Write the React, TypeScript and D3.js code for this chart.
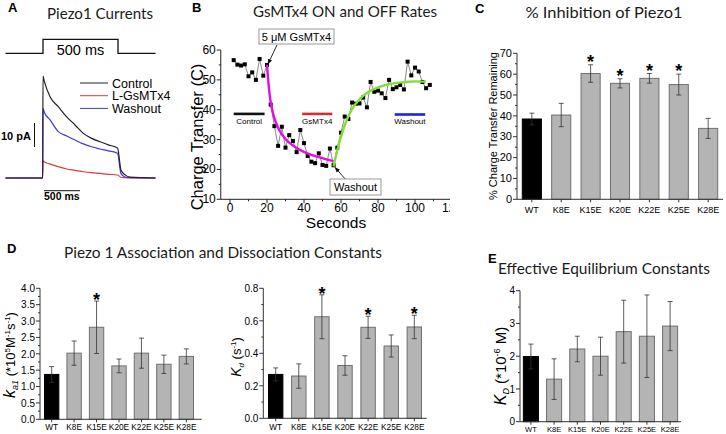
import React from 'react';
import * as d3 from 'd3';

const SANS = '"Liberation Sans", Arial, sans-serif';
const TITLE = 'Lato, "Open Sans", sans-serif';

// ---- panel A: current traces (pA) ----
const traceTime = [-250, -2, 0, 8, 47, 102, 158, 213, 269, 324, 380, 436, 497, 520, 547, 580, 750];
const controlTrace = [0, 0, 42.5, 40.5, 33.9, 29.7, 25.5, 22.1, 18.6, 16.5, 15.1, 13.8, 12.5, 3.3, 1.3, 0.4, 0];
const gsmtxTrace = [0, 0, 7.2, 6.8, 5.8, 4.7, 3.75, 3.2, 2.6, 2.2, 1.9, 1.55, 1.25, 0.3, 0.1, 0, 0];
const washoutTrace = [0, 0, 29, 27.5, 24.2, 19.3, 17.5, 15.8, 14.2, 13.0, 12.1, 11.3, 10.3, 1.8, 0.4, 0.1, 0];
const stimTime = [-250, 0, 0, 500, 500, 750];
const stimLevel = [0, 0, 1, 1, 0, 0];
const traceNames = ['Control', 'L-GsMTx4', 'Washout'];
const traceColors = ['#222222', '#e03a3a', '#3838ee'];

// ---- panel B: charge transfer ----
const chargeTime = [2, 4, 6, 8, 10, 12, 14, 16, 18, 20, 22, 24, 26, 28, 30, 32, 34, 36, 38, 40, 42, 44, 46, 48, 50, 52, 54, 56,
  58, 60, 62, 64, 66, 68, 70, 72, 74, 76, 78, 80, 82, 84, 86, 88, 90, 92, 94, 96, 98, 100, 102, 104, 106, 108];
const chargeValue = [56.6, 55.1, 54.8, 55.2, 51.2, 52.5, 50.0, 57.0, 51.4, 55.0, 41.7, 34.5, 27.9, 34.3, 27.3, 31.5, 29.5, 25.8,
  33.2, 28.8, 24.5, 22.6, 22.1, 25.4, 21.5, 21.2, 27.0, 21.4, 27.3, 32.3, 37.7, 36.9, 42.4, 42.0, 42.1, 44.1, 40.8, 49.3, 46.0,
  46.4, 45.5, 43.9, 50.0, 46.9, 47.5, 48.3, 46.8, 56.1, 51.5, 54.1, 52.8, 49.3, 47.2, 48.3];
const onFitTime = [20, 21, 22, 23, 24, 26, 28, 30, 32, 36, 40, 44, 48, 52, 56];
const onFitValue = [55, 47.5, 42.5, 39.5, 37.2, 34, 31.8, 30.2, 29, 27.2, 25.9, 24.9, 24.1, 23.4, 22.8];
const offFitTime = [56, 58, 60, 62, 64, 66, 70, 75, 80, 85, 90, 95, 100, 106];
const offFitValue = [21, 26.5, 31, 34.8, 37.8, 40.2, 43.5, 46, 47.5, 48.4, 49, 49.3, 49.5, 49.4];
const phaseNames = ['Control', 'GsMTx4', 'Washout'];
const phaseStart = [2, 39, 89];
const phaseEnd = [18.7, 55.3, 105.5];
const phaseLevel = [38.6, 38.6, 38.4];
const phaseColors = ['#111111', '#d03030', '#2020e0'];
const bTicksX = [0, 20, 40, 60, 80, 100, 120];
const bTicksY = [10, 20, 30, 40, 50, 60];

// ---- bar panels ----
const mutants = ['WT', 'K8E', 'K15E', 'K20E', 'K22E', 'K25E', 'K28E'];
const inhibMean = [38.5, 40.4, 60.3, 55.6, 58.0, 55.0, 34.0];
const inhibErr = [2.8, 5.6, 4.2, 2.2, 2.3, 5.0, 4.8];
const inhibStar = [false, false, true, true, true, true, false];
const ka1Mean = [1.37, 2.02, 2.81, 1.63, 2.02, 1.68, 1.92];
const ka1Err = [0.24, 0.37, 0.8, 0.21, 0.46, 0.28, 0.23];
const ka1Star = [false, false, true, false, false, false, false];
const kdMean = [0.27, 0.26, 0.625, 0.325, 0.56, 0.445, 0.562];
const kdErr = [0.04, 0.075, 0.135, 0.06, 0.068, 0.068, 0.072];
const kdStar = [false, false, true, false, true, false, true];
const KDMean = [1.99, 1.3, 2.22, 2.0, 2.75, 2.61, 2.92];
const KDErr = [0.38, 0.62, 0.39, 0.58, 0.96, 1.26, 0.75];
const KDStar = [false, false, false, false, false, false, false];

const Letter = ({ x, y, t }: any) => (
  <text x={x} y={y} fontFamily={SANS} fontWeight="bold" fontSize={13}>{t}</text>
);
const Title = ({ x, y, t, len, size = 15 }: any) => (
  <text x={x} y={y} textAnchor="middle" fontFamily={TITLE} fontSize={size} fill="#1a1a1a"
    textLength={len} lengthAdjust="spacingAndGlyphs">{t}</text>
);

function PanelA() {
  const x = d3.scaleLinear().domain([-250, 750]).range([5.5, 155.5]);
  const y = d3.scaleLinear().domain([0, 10]).range([178, 154]);
  const sy = d3.scaleLinear().domain([0, 1]).range([53.3, 39.3]);
  const stim = d3.line<number>().x((d, i) => x(stimTime[i])).y(d => sy(d));
  const trace = d3.line<number>().x((d, i) => x(traceTime[i])).y(d => y(d)).curve(d3.curveMonotoneX);
  const traces = [controlTrace, gsmtxTrace, washoutTrace];
  return (
    <g>
      <Letter x={8} y={12} t="A" />
      <Title x={100} y={19} t="Piezo1 Currents" len={106} />
      <path d={stim(stimLevel) || ''} fill="none" stroke="#111" strokeWidth={1.3} />
      <text x={x(250)} y={55} textAnchor="middle" fontFamily={SANS} fontSize={14.5}>500 ms</text>
      {[gsmtxTrace, washoutTrace, controlTrace].map((t, k) => {
        const idx = traces.indexOf(t);
        return <path key={k} d={trace(t) || ''} fill="none" stroke={traceColors[idx]} strokeWidth={1.2} />;
      })}
      {traceNames.map((n, i) => (
        <g key={n}>
          <line x1={80} x2={108} y1={83 + i * 12.7} y2={83 + i * 12.7} stroke={traceColors[i]} strokeWidth={1} />
          <text x={112} y={87.5 + i * 12.7} fontFamily={SANS} fontSize={12.5}>{n}</text>
        </g>
      ))}
      <line x1={34.5} x2={34.5} y1={y(0) - 55} y2={y(0) - 31} stroke="#111" strokeWidth={1} />
      <text x={1} y={140} fontFamily={SANS} fontWeight="bold" fontSize={11}>10 pA</text>
      <line x1={44} x2={80} y1={190.7} y2={190.7} stroke="#111" strokeWidth={1} />
      <text x={44} y={200} fontFamily={SANS} fontWeight="bold" fontSize={10.5}>500 ms</text>
    </g>
  );
}

function PanelB() {
  const x = d3.scaleLinear().domain([-5, 120]).range([220.75, 452]);
  const y = d3.scaleLinear().domain([10, 60]).range([199.3, 50]);
  const conn = d3.line<number>().x((d, i) => x(chargeTime[i])).y(d => y(d));
  const onFit = d3.line<number>().x((d, i) => x(onFitTime[i])).y(d => y(d)).curve(d3.curveMonotoneX);
  const offFit = d3.line<number>().x((d, i) => x(offFitTime[i])).y(d => y(d)).curve(d3.curveMonotoneX);
  const minorX = [10, 30, 50, 70, 90, 110];
  const minorY = [15, 25, 35, 45, 55];
  return (
    <g>
      <defs>
        <clipPath id="clipB"><rect x={186} y={0} width={264} height={228} /></clipPath>
        <marker id="arr" viewBox="0 0 10 10" refX={9} refY={5} markerWidth={6} markerHeight={6} orient="auto">
          <path d="M0,1 L10,5 L0,9 z" fill="#111" />
        </marker>
      </defs>
      <Letter x={192} y={12} t="B" />
      <Title x={345} y={17} t="GsMTx4 ON and OFF Rates" len={184} />
      <g clipPath="url(#clipB)">
        <line x1={x(-5)} x2={x(-5)} y1={y(10)} y2={y(60)} stroke="#222" />
        <line x1={x(-5)} x2={x(125)} y1={y(10)} y2={y(10)} stroke="#222" />
        {bTicksY.map(v => (
          <g key={v}>
            <line x1={x(-5) - 4} x2={x(-5)} y1={y(v)} y2={y(v)} stroke="#222" />
            <text x={x(-5) - 5} y={y(v) + 4} textAnchor="end" fontFamily={SANS} fontSize={12}>{v}</text>
          </g>
        ))}
        {minorY.map(v => <line key={v} x1={x(-5) - 2} x2={x(-5)} y1={y(v)} y2={y(v)} stroke="#222" />)}
        {bTicksX.map(v => (
          <g key={v}>
            <line x1={x(v)} x2={x(v)} y1={y(10)} y2={y(10) + 4} stroke="#222" />
            <text x={x(v)} y={212} textAnchor="middle" fontFamily={SANS} fontSize={12}>{v}</text>
          </g>
        ))}
        {minorX.map(v => <line key={v} x1={x(v)} x2={x(v)} y1={y(10)} y2={y(10) + 2} stroke="#222" />)}
        <path d={conn(chargeValue) || ''} fill="none" stroke="#555" strokeWidth={0.7} />
        {chargeValue.map((v, i) => (
          <rect key={i} x={x(chargeTime[i]) - 2} y={y(v) - 2} width={4} height={4} fill="#000" />
        ))}
        <path d={onFit(onFitValue) || ''} fill="none" stroke="#e010e0" strokeWidth={2.4} />
        <path d={offFit(offFitValue) || ''} fill="none" stroke="#80e030" strokeWidth={2.4} />
        {phaseNames.map((n, i) => (
          <g key={n}>
            <line x1={x(phaseStart[i])} x2={x(phaseEnd[i])} y1={y(phaseLevel[i])} y2={y(phaseLevel[i])}
              stroke={phaseColors[i]} strokeWidth={2.6} />
            <text x={(x(phaseStart[i]) + x(phaseEnd[i])) / 2} y={y(phaseLevel[i]) + 10} textAnchor="middle"
              fontFamily={SANS} fontSize={8}>{n}</text>
          </g>
        ))}
        <line x1={277} y1={45} x2={x(20) + 1} y2={y(55) - 1} stroke="#111" strokeWidth={0.9} markerEnd="url(#arr)" />
        <rect x={259} y={29} width={75} height={15} fill="#fff" stroke="#999" />
        <text x={296.5} y={40.5} textAnchor="middle" fontFamily={SANS} fontSize={11}>5 μM GsMTx4</text>
        <line x1={346} y1={180} x2={x(56) + 1.5} y2={y(21) + 1} stroke="#111" strokeWidth={0.9} markerEnd="url(#arr)" />
        <rect x={330} y={179} width={51} height={16} fill="#fff" stroke="#999" />
        <text x={355.5} y={191} textAnchor="middle" fontFamily={SANS} fontSize={11}>Washout</text>
        <text transform={`translate(203,137) rotate(-90)`} textAnchor="middle" fontFamily={SANS} fontSize={16.5}>
          Charge Transfer (C)
        </text>
        <text x={336} y={227.5} textAnchor="middle" fontFamily={SANS} fontSize={15.5}>Seconds</text>
      </g>
    </g>
  );
}

function BarPanel({ mean, err, star, yMax, ticks, minor, fmt, ax0, ax1, bx0, bx1, yTop, yBot, pi, po,
  tickFont, catFont, catY, starOff }: any) {
  const x = d3.scaleBand<string>().domain(mutants).range([bx0, bx1]).paddingInner(pi).paddingOuter(po);
  const y = d3.scaleLinear().domain([0, yMax]).range([yBot, yTop]);
  const bw = x.bandwidth();
  return (
    <g>
      {mutants.map((c, i) => {
        const cx = (x(c) as number) + bw / 2;
        const top = y(mean[i] + err[i]);
        return (
          <g key={c}>
            <rect x={x(c)} y={y(mean[i])} width={bw} height={yBot - y(mean[i])}
              fill={i === 0 ? '#000' : '#b4b4b4'} stroke={i === 0 ? '#000' : '#6f6f6f'} strokeWidth={1} />
            <line x1={cx} x2={cx} y1={top} y2={y(mean[i] - err[i])} stroke="#333" strokeWidth={0.8} />
            <line x1={cx - 2.5} x2={cx + 2.5} y1={top} y2={top} stroke="#333" strokeWidth={0.8} />
            <line x1={cx - 2.5} x2={cx + 2.5} y1={y(mean[i] - err[i])} y2={y(mean[i] - err[i])} stroke="#333" strokeWidth={0.8} />
            {star[i] && (
              <text x={cx} y={top + starOff} textAnchor="middle" fontFamily={SANS} fontWeight="bold" fontSize={18}>*</text>
            )}
            <line x1={cx} x2={cx} y1={yBot} y2={yBot + 3} stroke="#333" />
            <text x={cx} y={catY} textAnchor="middle" fontFamily={SANS} fontSize={catFont}>{c}</text>
          </g>
        );
      })}
      <line x1={ax0} x2={ax0} y1={yBot} y2={yTop} stroke="#333" />
      <line x1={ax0} x2={ax1} y1={yBot} y2={yBot} stroke="#333" />
      {ticks.map((v: number) => (
        <g key={v}>
          <line x1={ax0 - 4} x2={ax0} y1={y(v)} y2={y(v)} stroke="#333" />
          <text x={ax0 - 5} y={y(v) + 3.7} textAnchor="end" fontFamily={SANS} fontSize={tickFont}>{fmt(v)}</text>
        </g>
      ))}
      {minor.map((v: number) => <line key={v} x1={ax0 - 2} x2={ax0} y1={y(v)} y2={y(v)} stroke="#333" />)}
    </g>
  );
}

export default function App() {
  const f1 = d3.format('.1f');
  return (
    <svg width={726} height={434} style={{ position: 'absolute', left: 0, top: 0, background: '#fff' }}>
      <PanelA />
      <PanelB />

      {/* panel C */}
      <Letter x={475} y={13} t="C" />
      <Title x={604} y={18} t="% Inhibition of Piezo1" len={157} />
      <BarPanel mean={inhibMean} err={inhibErr} star={inhibStar} yMax={70} ticks={[0, 10, 20, 30, 40, 50, 60, 70]}
        minor={[5, 15, 25, 35, 45, 55, 65]} fmt={(v: number) => String(v)} ax0={517} ax1={723} bx0={517} bx1={723}
        yTop={53.3} yBot={199.3} pi={0.35} po={0.18} tickFont={11} catFont={9} catY={212.5} starOff={3} />
      <text transform="translate(497,126) rotate(-90)" textAnchor="middle" fontFamily={SANS} fontSize={11}>
        % Charge Transfer Remaining
      </text>

      {/* panel D */}
      <Letter x={7} y={253} t="D" />
      <Title x={223} y={258} t="Piezo 1 Association and Dissociation Constants" len={318} />
      <BarPanel mean={ka1Mean} err={ka1Err} star={ka1Star} yMax={4} ticks={[0, 0.5, 1, 1.5, 2, 2.5, 3, 3.5, 4]}
        minor={[0.25, 0.75, 1.25, 1.75, 2.25, 2.75, 3.25, 3.75]} fmt={f1} ax0={40} ax1={201.7} bx0={40} bx1={198}
        yTop={288.3} yBot={419.3} pi={0.36} po={0.2} tickFont={10} catFont={8.3} catY={430} starOff={5} />
      <text transform="translate(15,355) rotate(-90)" textAnchor="middle" fontFamily={SANS} fontSize={13}>
        <tspan fontStyle="italic" fontSize={16}>k</tspan>
        <tspan fontStyle="italic" fontSize={9} dy={3}>a1</tspan>
        <tspan dy={-3}> (*10</tspan>
        <tspan fontSize={8} dy={-5}>5</tspan>
        <tspan dy={5}>M</tspan>
        <tspan fontSize={8} dy={-5}>-1</tspan>
        <tspan dy={5}>s</tspan>
        <tspan fontSize={8} dy={-5}>-1</tspan>
        <tspan dy={5}>)</tspan>
      </text>

      <BarPanel mean={kdMean} err={kdErr} star={kdStar} yMax={0.8} ticks={[0, 0.2, 0.4, 0.6, 0.8]}
        minor={[0.1, 0.3, 0.5, 0.7]} fmt={f1} ax0={263.3} ax1={426.7} bx0={263.3} bx1={426.7}
        yTop={288.3} yBot={418.3} pi={0.377} po={0.225} tickFont={10} catFont={8.3} catY={429.5} starOff={5} />
      <text transform="translate(241,357) rotate(-90)" textAnchor="middle" fontFamily={SANS} fontSize={13}>
        <tspan fontStyle="italic" fontSize={14}>K</tspan>
        <tspan fontStyle="italic" fontSize={8} dy={3}>d</tspan>
        <tspan dy={-3}> (s</tspan>
        <tspan fontSize={8} dy={-5}>-1</tspan>
        <tspan dy={5}>)</tspan>
      </text>

      {/* panel E */}
      <Letter x={488} y={263} t="E" />
      <Title x={604} y={274} t="Effective Equilibrium Constants" len={212} />
      <BarPanel mean={KDMean} err={KDErr} star={KDStar} yMax={4} ticks={[0, 1, 2, 3, 4]}
        minor={[0.5, 1.5, 2.5, 3.5]} fmt={(v: number) => String(v)} ax0={520} ax1={681} bx0={520} bx1={681}
        yTop={290.7} yBot={421.7} pi={0.35} po={0.145} tickFont={10} catFont={7.6} catY={432} starOff={5} />
      <text transform="translate(506,366) rotate(-90)" textAnchor="middle" fontFamily={SANS} fontSize={15}>
        <tspan fontStyle="italic" fontSize={16}>K</tspan>
        <tspan fontStyle="italic" fontSize={9} dy={3}>D</tspan>
        <tspan dy={-3}> (*10</tspan>
        <tspan fontSize={9} dy={-6}>-6</tspan>
        <tspan dy={6}> M)</tspan>
      </text>
    </svg>
  );
}
